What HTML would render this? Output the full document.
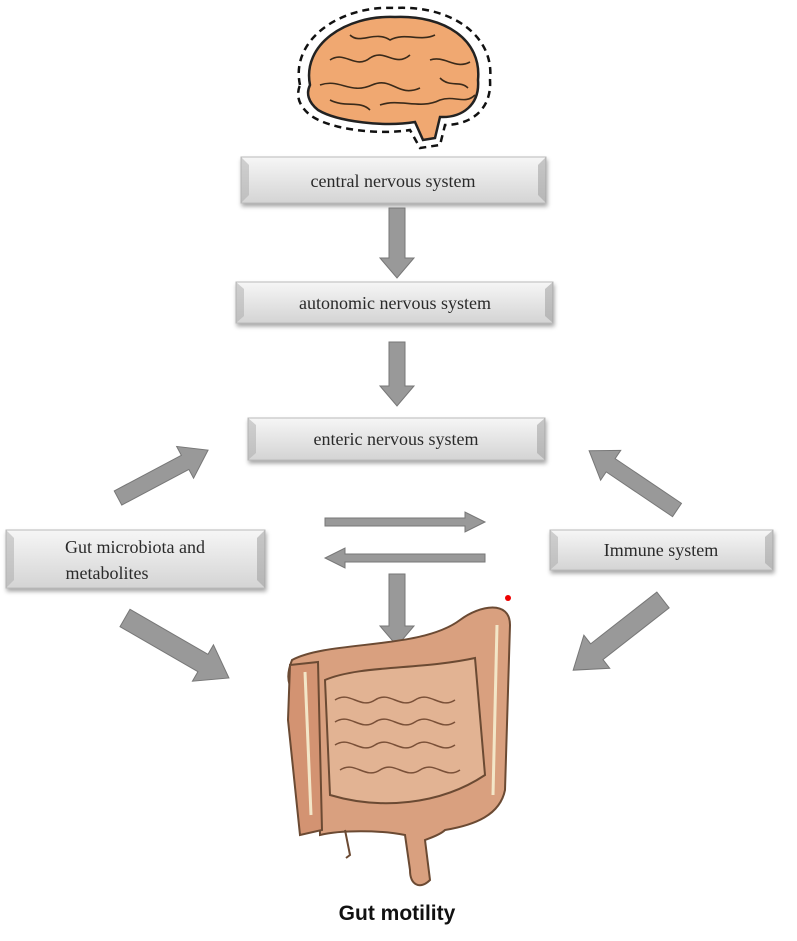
<!DOCTYPE html>
<html><head><style>
body{margin:0;background:#fff;width:797px;height:936px;overflow:hidden;font-family:"Liberation Serif",serif}
</style></head><body>
<svg width="797" height="936" viewBox="0 0 797 936" xmlns="http://www.w3.org/2000/svg">
<defs>
<linearGradient id="bv" x1="0" y1="0" x2="0" y2="1">
<stop offset="0" stop-color="#f6f6f6"/><stop offset="1" stop-color="#d4d4d4"/></linearGradient>
<filter id="sh" x="-5%" y="-20%" width="110%" height="150%"><feDropShadow dx="1" dy="3" stdDeviation="2" flood-color="#000" flood-opacity="0.35"/></filter>
</defs>
<!-- brain -->
<path d="M300 85 C290 40 340 5 395 8 C450 5 495 35 490 80 C492 110 470 125 445 125 L440 145 L420 148 L410 130 C380 135 330 130 310 115 C298 105 296 95 300 85Z" fill="none" stroke="#111" stroke-width="2.5" stroke-dasharray="7,5"/>
<path d="M310 85 C302 45 345 15 395 17 C445 15 482 40 478 80 C480 105 462 118 440 117 L435 138 L423 140 L415 122 C385 127 338 122 318 110 C308 102 306 93 310 85Z" fill="#f0a871" stroke="#222" stroke-width="2.5"/>
<g fill="none" stroke="#3a2a1a" stroke-width="1.6">
<path d="M330 60 C345 50 355 70 370 58 C385 48 395 68 410 55"/>
<path d="M320 85 C340 78 350 95 372 85 C392 76 398 98 420 88"/>
<path d="M350 35 C360 45 375 30 390 40 C405 32 420 42 435 35"/>
<path d="M430 60 C445 55 455 70 470 62"/>
<path d="M380 105 C400 98 420 110 440 100 C455 95 465 105 475 95"/>
<path d="M330 100 C345 108 360 100 370 110"/>
<path d="M440 78 C450 88 460 80 468 88"/>
</g>
<!-- boxes -->
<g filter="url(#sh)" stroke="#bbb" stroke-width="1">
<rect x="241" y="157" width="305" height="46" fill="url(#bv)"/>
<rect x="236" y="282" width="317" height="41" fill="url(#bv)"/>
<rect x="248" y="418" width="297" height="42" fill="url(#bv)"/>
<rect x="6" y="530" width="259" height="58" fill="url(#bv)"/>
<rect x="550" y="530" width="223" height="40" fill="url(#bv)"/>
</g>
<!-- bevel edges -->
<g opacity="0.5">
<path d="M241 157 l8 8 v30 l-8 8z M236 282 l8 7 v27 l-8 7z M248 418 l8 7 v28 l-8 7z M6 530 l8 8 v42 l-8 8z M550 530 l8 7 v26 l-8 7z" fill="#aaa"/>
<path d="M546 157 l-8 8 v30 l8 8z M553 282 l-8 7 v27 l8 7z M545 418 l-8 7 v28 l8 7z M265 530 l-8 8 v42 l8 8z M773 530 l-8 7 v26 l8 7z" fill="#999"/>
</g>
<g font-family="Liberation Serif,serif" font-size="18" fill="#2a2a2a" text-anchor="middle">
<text x="393" y="187">central nervous system</text>
<text x="395" y="309">autonomic nervous system</text>
<text x="396" y="445">enteric nervous system</text>
<text x="135" y="553">Gut microbiota and</text>
<text x="107" y="579">metabolites</text>
<text x="661" y="556">Immune system</text>
</g>
<!-- arrows -->
<g fill="#999" stroke="#777" stroke-width="1">
<path d="M389 208 h16 v50 h9 l-17 20 l-17 -20 h9z"/>
<path d="M389 342 h16 v44 h9 l-17 20 l-17 -20 h9z"/>
<path d="M389 574 h16 v52 h9 l-17 20 l-17 -20 h9z"/>
<path d="M325 518 h140 v-6 l20 10 l-20 10 v-6 h-140z"/>
<path d="M485 554 h-140 v-6 l-20 10 l20 10 v-6 h140z"/>
</g>
<g fill="#999" stroke="#777" stroke-width="1">
<path d="M0 -8 h76 v-10 l26 18 l-26 18 v-10 h-76z" transform="translate(118,498) rotate(-28)"/>
<path d="M0 -8 h80 v-10 l26 18 l-26 18 v-10 h-80z" transform="translate(677,510) rotate(-146)"/>
<path d="M0 -10 h90 v-11 l30 21 l-30 21 v-11 h-90z" transform="translate(125,618) rotate(30)"/>
<path d="M0 -10 h84 v-11 l30 21 l-30 21 v-11 h-84z" transform="translate(663,600) rotate(142)"/>
</g>
<circle cx="508" cy="598" r="3" fill="#e00"/>
<!-- gut -->
<g stroke="#6b4a33" stroke-width="2">
<path d="M292 660 C330 640 420 650 460 620 C480 605 510 600 510 625 L505 790 C500 815 475 825 445 830 C440 835 430 838 425 840 L430 880 C420 890 410 885 410 870 L405 835 C380 830 340 830 320 835 L318 700 C300 700 280 690 292 660Z" fill="#d9a07f"/>
<path d="M290 665 L318 662 L322 830 L300 835 L288 720Z" fill="#d39372"/>
<path d="M325 680 C360 665 420 670 475 658 L485 775 C440 805 380 810 330 795Z" fill="#e2b393"/>
<path d="M345 830 l5 25 l-4 3" fill="none"/>
</g>
<g fill="none" stroke="#7a5038" stroke-width="1.5">
<path d="M335 700 c15 -10 25 10 40 0 s25 10 40 0 s25 10 40 0"/>
<path d="M335 722 c15 -10 25 10 40 0 s25 10 40 0 s25 10 40 0"/>
<path d="M335 745 c15 -10 25 10 40 0 s25 10 40 0 s25 10 40 0"/>
<path d="M340 770 c15 -10 25 10 40 0 s25 10 40 0 s25 10 40 0"/>
<path d="M305 672 L311 815" stroke="#f3e6c8" stroke-width="3"/>
<path d="M497 625 L493 795" stroke="#f3e6c8" stroke-width="3"/>
</g>
<text x="397" y="920" font-family="Liberation Sans,sans-serif" font-weight="bold" font-size="21" text-anchor="middle" fill="#111">Gut motility</text>
</svg>
</body></html>
